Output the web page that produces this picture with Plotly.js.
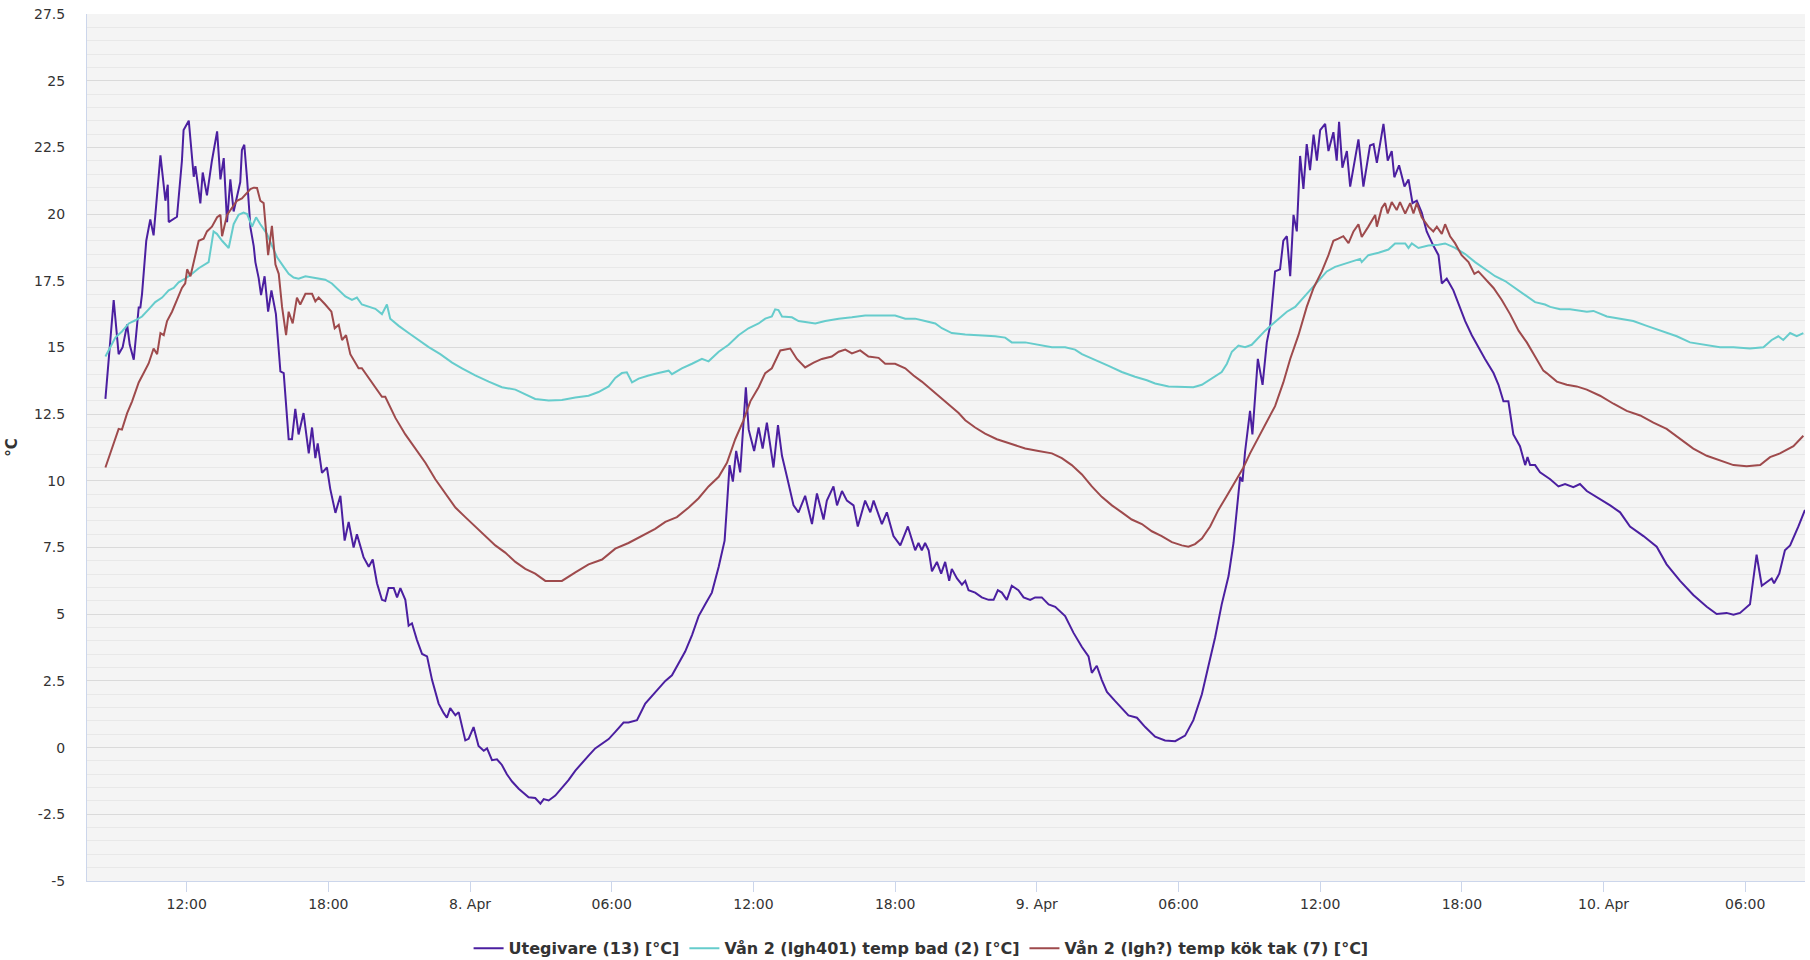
<!DOCTYPE html>
<html>
<head>
<meta charset="utf-8">
<script src="https://cdn.plot.ly/plotly-3.0.1.min.js"></script>
<style>
html,body{margin:0;padding:0;background:#fff;}
#chart{width:1810px;height:960px;}
</style>
</head>
<body>
<div id="chart"></div>
<script>
// Hours after 2023-04-07 00:00 and temperatures (°C)
const uteHours = [8.56,8.91,9.12,9.29,9.48,9.59,9.76,9.97,10.04,10.11,10.29,10.46,10.6,10.67,10.89,11.1,11.2,11.24,11.59,11.8,11.87,12.09,12.3,12.37,12.44,12.58,12.68,12.86,13.07,13.29,13.43,13.57,13.71,13.85,13.99,14.13,14.27,14.34,14.44,14.56,14.7,14.84,14.91,15.05,15.15,15.3,15.45,15.59,15.78,15.97,16.11,16.32,16.46,16.6,16.74,16.95,17.17,17.31,17.45,17.55,17.73,17.94,18.08,18.3,18.51,18.69,18.86,19.07,19.21,19.49,19.71,19.88,20.06,20.27,20.41,20.55,20.77,20.91,21.05,21.26,21.4,21.54,21.75,21.97,22.18,22.39,22.67,22.88,23.02,23.16,23.38,23.52,23.8,23.94,24.15,24.36,24.58,24.72,24.93,25.14,25.35,25.56,25.78,26.06,26.27,26.48,26.76,26.98,27.12,27.33,27.61,27.89,28.17,28.46,28.74,29.02,29.3,29.59,29.87,30.15,30.5,30.71,31.07,31.42,31.84,32.27,32.55,32.83,33.11,33.4,33.68,33.96,34.24,34.53,34.78,34.88,34.99,35.13,35.27,35.44,35.54,35.68,35.8,36.03,36.22,36.39,36.57,36.85,37.04,37.21,37.42,37.7,37.91,38.19,38.48,38.69,38.97,39.11,39.39,39.54,39.75,39.96,40.24,40.42,40.73,40.95,41.09,41.44,41.65,41.93,42.22,42.54,42.85,42.99,43.13,43.27,43.42,43.56,43.77,43.95,44.12,44.29,44.4,44.62,44.83,44.97,45.11,45.39,45.67,45.96,46.17,46.35,46.52,46.73,46.94,47.22,47.44,47.72,47.93,48.21,48.5,48.78,49.2,49.55,49.91,50.19,50.33,50.54,50.75,50.97,51.32,51.88,52.24,52.59,53.01,53.43,53.86,54.28,54.63,54.99,55.27,55.55,55.83,56.12,56.33,56.47,56.61,56.71,56.82,57.03,57.13,57.36,57.56,57.74,57.88,58.09,58.3,58.44,58.59,58.73,58.87,59.01,59.15,59.29,59.43,59.57,59.72,59.86,60.0,60.21,60.35,60.56,60.7,60.8,60.94,61.13,61.27,61.62,61.83,62.11,62.26,62.4,62.68,62.86,63.03,63.14,63.34,63.57,63.74,63.91,64.09,64.3,64.51,64.79,65.01,65.15,65.36,65.64,65.92,66.14,66.42,66.7,66.98,67.34,67.55,67.76,67.97,68.18,68.46,68.68,68.78,68.89,69.1,69.31,69.74,70.09,70.37,70.72,71.0,71.29,71.71,72.28,72.7,73.12,73.69,74.25,74.67,75.24,75.8,76.37,76.79,77.21,77.5,77.78,78.2,78.48,78.7,79.12,79.22,79.44,79.68,79.9,80.25,80.53];
const uteTemp = [13.07,16.78,14.75,15.01,15.86,15.1,14.54,16.5,16.5,17.0,19.0,19.8,19.2,19.9,22.2,20.5,21.1,19.7,19.9,22.0,23.15,23.5,21.4,21.8,21.3,20.4,21.56,20.7,22.0,23.1,21.3,22.1,19.7,21.3,20.1,20.7,21.2,22.4,22.6,21.3,19.5,18.8,18.2,17.6,16.96,17.67,16.34,17.14,16.25,14.1,14.04,11.56,11.56,12.7,11.74,12.54,11.03,12.0,10.85,11.4,10.3,10.5,9.7,8.8,9.44,7.76,8.46,7.5,8.0,7.14,6.78,7.05,6.16,5.54,5.5,5.98,5.98,5.63,5.98,5.54,4.57,4.66,4.04,3.51,3.42,2.54,1.65,1.3,1.12,1.48,1.21,1.33,0.27,0.33,0.77,0.06,-0.12,-0.03,-0.47,-0.44,-0.65,-1.0,-1.27,-1.54,-1.71,-1.86,-1.89,-2.1,-1.93,-1.98,-1.8,-1.5,-1.22,-0.86,-0.56,-0.3,-0.03,0.15,0.32,0.59,0.94,0.94,1.03,1.65,2.09,2.5,2.71,3.16,3.6,4.22,4.93,5.37,5.81,6.78,7.76,9.08,10.59,9.97,11.12,10.32,11.74,13.51,11.92,11.12,12.0,11.21,12.18,10.5,12.09,10.94,10.15,9.08,8.82,9.44,8.38,9.53,8.55,9.26,9.79,9.08,9.62,9.26,9.08,8.29,9.26,8.82,9.26,8.38,8.82,7.93,7.58,8.29,7.4,7.67,7.4,7.67,7.4,6.61,6.96,6.52,6.96,6.25,6.7,6.34,6.11,6.25,5.9,5.81,5.63,5.54,5.54,5.9,5.81,5.54,6.07,5.9,5.63,5.54,5.63,5.63,5.37,5.28,4.93,4.31,3.77,3.42,2.8,3.07,2.54,2.09,1.74,1.21,1.12,0.77,0.41,0.27,0.24,0.45,1.03,2.0,3.07,4.13,5.37,6.43,7.67,8.91,10.15,9.97,11.1,12.62,11.74,14.57,13.6,15.19,15.81,17.85,17.93,19.0,19.17,17.67,19.97,19.35,22.18,20.94,22.62,21.65,22.98,22.0,23.15,23.38,22.36,23.07,22.0,23.46,21.74,22.36,21.03,22.8,21.03,22.57,22.62,21.92,23.38,22.0,22.36,21.38,21.83,21.03,21.3,20.41,20.5,20.06,19.35,18.82,18.46,17.4,17.58,17.14,16.52,15.99,15.46,15.01,14.57,14.04,13.6,12.98,12.98,11.74,11.3,10.59,10.89,10.59,10.59,10.32,10.06,9.79,9.88,9.76,9.88,9.62,9.4,9.08,8.82,8.29,7.93,7.53,6.87,6.25,5.72,5.28,5.01,5.05,4.98,5.05,5.37,7.23,6.07,6.34,6.16,6.52,7.4,7.58,8.29,8.91];

const badHours = [8.56,8.77,8.98,9.26,9.55,9.83,10.11,10.39,10.67,10.96,11.24,11.45,11.66,11.94,12.23,12.51,12.93,13.14,13.28,13.5,13.78,13.99,14.2,14.41,14.56,14.77,14.94,15.12,15.4,15.61,15.83,16.11,16.32,16.53,16.74,17.03,17.31,17.59,17.87,18.15,18.44,18.72,19.0,19.21,19.42,19.71,19.99,20.27,20.48,20.62,20.98,21.4,21.82,22.25,22.74,23.24,23.66,24.22,24.79,25.35,25.92,26.34,26.76,27.33,27.89,28.46,29.02,29.44,29.87,30.15,30.43,30.64,30.86,31.14,31.56,31.98,32.41,32.55,32.97,33.4,33.82,34.1,34.53,34.95,35.37,35.79,36.22,36.5,36.78,36.92,37.06,37.21,37.63,37.91,38.19,38.62,39.04,39.61,40.17,40.73,41.44,42.0,42.43,42.85,43.27,43.7,43.98,44.4,44.97,45.67,46.24,46.66,46.94,47.51,48.07,48.64,49.2,49.62,49.91,50.47,51.04,51.6,52.16,52.66,53.01,53.58,54.14,54.63,54.99,55.41,55.83,56.05,56.26,56.54,56.82,57.1,57.39,57.67,57.95,58.23,58.59,58.94,59.29,59.64,59.93,60.28,60.63,61.06,61.41,61.69,61.76,62.04,62.47,62.89,63.17,63.6,63.74,63.88,64.16,64.58,65.01,65.29,65.71,66.14,66.56,66.98,67.41,67.83,68.25,68.68,69.1,69.52,69.74,70.16,70.58,71.29,71.57,72.14,72.7,73.26,73.83,74.11,74.53,75.1,75.66,76.23,76.93,77.5,78.2,78.77,79.12,79.4,79.61,79.9,80.18,80.46];
const badTemp = [14.66,15.01,15.37,15.6,15.9,16.02,16.16,16.43,16.7,16.87,17.14,17.23,17.44,17.58,17.76,17.97,18.2,19.35,19.26,19.0,18.73,19.62,19.97,20.06,20.0,19.53,19.88,19.62,19.26,18.82,18.38,18.02,17.76,17.62,17.58,17.67,17.62,17.58,17.54,17.4,17.14,16.91,16.78,16.87,16.61,16.52,16.45,16.25,16.61,16.08,15.81,15.54,15.28,15.01,14.75,14.43,14.22,13.95,13.72,13.51,13.42,13.24,13.07,13.01,13.03,13.12,13.19,13.33,13.54,13.86,14.04,14.07,13.69,13.83,13.95,14.04,14.13,14.0,14.22,14.39,14.57,14.48,14.84,15.1,15.46,15.72,15.9,16.08,16.16,16.43,16.4,16.16,16.13,15.99,15.95,15.9,15.99,16.08,16.13,16.2,16.2,16.2,16.08,16.08,15.99,15.9,15.72,15.54,15.49,15.46,15.42,15.37,15.19,15.19,15.1,15.01,15.01,14.92,14.75,14.54,14.31,14.08,13.9,13.77,13.65,13.54,13.51,13.51,13.6,13.83,14.08,14.39,14.84,15.07,15.01,15.1,15.37,15.63,15.85,16.08,16.34,16.52,16.87,17.23,17.49,17.85,18.02,18.15,18.25,18.32,18.2,18.46,18.55,18.67,18.9,18.9,18.73,18.9,18.73,18.82,18.85,18.9,18.73,18.5,18.2,17.93,17.67,17.49,17.23,16.96,16.7,16.61,16.52,16.43,16.43,16.34,16.37,16.16,16.08,15.99,15.81,15.72,15.6,15.42,15.19,15.1,15.01,15.01,14.96,15.01,15.28,15.42,15.28,15.54,15.42,15.54];

const kokHours = [8.56,8.84,9.12,9.26,9.48,9.69,9.97,10.18,10.39,10.6,10.75,10.89,11.03,11.17,11.38,11.59,11.8,11.94,12.02,12.16,12.37,12.51,12.72,12.86,13.07,13.29,13.43,13.5,13.71,13.92,14.13,14.34,14.56,14.7,14.84,14.98,15.12,15.26,15.45,15.61,15.76,15.9,16.04,16.21,16.32,16.49,16.67,16.81,17.03,17.31,17.45,17.59,17.87,18.13,18.27,18.44,18.58,18.75,18.93,19.11,19.28,19.42,19.63,19.85,20.06,20.27,20.41,20.84,21.26,21.68,22.11,22.53,22.95,23.38,23.8,24.22,24.65,25.07,25.49,25.92,26.34,26.76,27.19,27.61,27.89,28.46,29.02,29.59,30.15,30.71,31.28,31.84,32.27,32.76,33.26,33.68,34.1,34.53,34.88,35.23,35.58,35.87,36.22,36.5,36.78,37.14,37.56,37.84,38.19,38.55,38.9,39.32,39.61,39.89,40.17,40.52,40.87,41.3,41.58,42.0,42.43,42.78,43.13,43.41,43.84,44.26,44.69,44.97,45.39,45.81,46.31,46.8,47.51,48.07,48.64,49.06,49.48,49.91,50.33,50.75,51.18,51.6,52.02,52.45,52.87,53.29,53.72,54.14,54.42,54.7,54.99,55.34,55.69,56.05,56.4,56.75,57.03,57.25,57.67,58.09,58.44,58.73,59.08,59.43,59.72,60.07,60.35,60.56,60.77,60.98,61.2,61.41,61.62,61.76,62.04,62.33,62.4,62.61,62.75,62.86,63.03,63.24,63.38,63.6,63.81,63.95,64.09,64.3,64.58,64.79,64.94,65.15,65.29,65.5,65.71,65.99,66.28,66.53,66.7,66.98,67.34,67.69,68.04,68.4,68.75,69.1,69.45,69.59,70.02,70.44,70.86,71.29,71.85,72.42,72.98,73.55,74.11,74.67,75.24,75.8,76.37,76.93,77.5,78.06,78.63,79.05,79.47,80.04,80.46];
const kokTemp = [10.5,11.21,11.95,11.92,12.54,12.98,13.69,14.04,14.4,14.96,14.75,15.54,15.46,15.99,16.34,16.78,17.23,17.4,17.93,17.67,18.46,19.0,19.08,19.35,19.53,19.88,19.97,19.17,19.97,20.23,20.5,20.59,20.8,20.94,20.99,20.98,20.5,20.41,18.46,19.56,18.11,17.76,16.52,15.46,16.34,15.9,16.87,16.61,17.01,17.01,16.73,16.87,16.61,16.34,15.72,15.85,15.28,15.46,14.75,14.48,14.22,14.22,13.95,13.69,13.42,13.15,13.15,12.36,11.74,11.21,10.68,10.06,9.53,9.0,8.64,8.29,7.93,7.58,7.31,6.96,6.7,6.52,6.25,6.25,6.25,6.57,6.87,7.05,7.46,7.67,7.93,8.2,8.46,8.64,9.0,9.35,9.79,10.15,10.68,11.56,12.27,12.98,13.51,14.04,14.22,14.89,14.96,14.57,14.25,14.43,14.57,14.66,14.84,14.92,14.78,14.89,14.66,14.61,14.39,14.39,14.22,13.95,13.72,13.51,13.19,12.89,12.54,12.27,12.0,11.77,11.56,11.42,11.21,11.12,11.03,10.85,10.59,10.24,9.79,9.4,9.08,8.82,8.55,8.38,8.11,7.93,7.7,7.58,7.53,7.63,7.84,8.29,8.91,9.44,9.97,10.5,11.03,11.39,12.09,12.8,13.69,14.57,15.46,16.52,17.23,17.85,18.46,19.0,19.08,19.17,18.91,19.35,19.62,19.14,19.53,19.97,19.53,20.23,20.41,20.02,20.45,20.15,20.45,20.02,20.41,20.02,20.41,19.88,19.53,19.35,19.53,19.26,19.62,19.17,18.91,18.46,18.2,17.76,17.85,17.58,17.23,16.78,16.25,15.63,15.19,14.66,14.13,14.04,13.72,13.6,13.54,13.42,13.19,12.89,12.62,12.45,12.18,11.95,11.56,11.21,10.94,10.77,10.59,10.55,10.59,10.89,11.03,11.3,11.69];

const seriesNames = ['Utegivare (13) [°C]', 'Vån 2 (lgh401) temp bad (2) [°C]', 'Vån 2 (lgh?) temp kök tak (7) [°C]'];
const seriesColors = ['#4b1fa0', '#66cccc', '#9e4a4c'];
const xRangeHours = [7.78, 80.53];
const xTickHours = [12, 18, 24, 30, 36, 42, 48, 54, 60, 66, 72, 78];
const yTicks = [-5, -2.5, 0, 2.5, 5, 7.5, 10, 12.5, 15, 17.5, 20, 22.5, 25, 27.5];

const BASE = Date.UTC(2023, 3, 7, 0, 0, 0);
function pad(n){ return (n < 10 ? '0' : '') + n; }
function h2s(h){
  const d = new Date(BASE + Math.round(h * 3600) * 1000);
  return d.getUTCFullYear() + '-' + pad(d.getUTCMonth()+1) + '-' + pad(d.getUTCDate()) + ' ' +
         pad(d.getUTCHours()) + ':' + pad(d.getUTCMinutes()) + ':' + pad(d.getUTCSeconds());
}
function tickLabel(h){
  const d = new Date(BASE + h * 3600000);
  if (d.getUTCHours() === 0 && d.getUTCMinutes() === 0) return d.getUTCDate() + '. Apr';
  return pad(d.getUTCHours()) + ':' + pad(d.getUTCMinutes());
}

const font = 'DejaVu Sans, Verdana, sans-serif';
const hoursList = [uteHours, badHours, kokHours];
const tempList = [uteTemp, badTemp, kokTemp];

const traces = seriesNames.map((name, i) => ({
  type: 'scatter',
  mode: 'lines',
  name: name,
  x: hoursList[i].map(h2s),
  y: tempList[i],
  line: {color: seriesColors[i], width: 2}
}));

const layout = {
  width: 1810,
  height: 960,
  margin: {l: 87, r: 5, t: 14, b: 79, autoexpand: false},
  paper_bgcolor: '#ffffff',
  plot_bgcolor: '#f4f4f4',
  font: {family: font, color: '#333333'},
  showlegend: true,
  xaxis: {
    type: 'date',
    range: xRangeHours.map(h2s),
    tickmode: 'array',
    tickvals: xTickHours.map(h2s),
    ticktext: xTickHours.map(tickLabel),
    ticks: 'outside',
    ticklen: 10,
    tickwidth: 1,
    tickcolor: '#ccd6eb',
    showline: true,
    linecolor: '#ccd6eb',
    linewidth: 1,
    showgrid: false,
    zeroline: false,
    automargin: false,
    tickfont: {family: font, size: 14, color: '#333333'}
  },
  yaxis: {
    range: [-5, 27.5],
    tickmode: 'array',
    tickvals: yTicks,
    ticktext: yTicks.map(v => String(v)),
    ticks: '',
    ticklabelstandoff: 18,
    showgrid: true,
    gridcolor: '#dadada',
    gridwidth: 1,
    minor: {tickmode: 'linear', tick0: -5, dtick: 0.5, showgrid: true, gridcolor: '#e8e8e8', gridwidth: 1, ticks: ''},
    showline: true,
    linecolor: '#ccd6eb',
    linewidth: 1,
    zeroline: false,
    automargin: false,
    tickfont: {family: font, size: 14, color: '#333333'},
    title: {text: '°C', standoff: 12, font: {family: font, size: 15, color: '#333333', weight: 'bold'}}
  },
  legend: {
    orientation: 'h',
    x: 0.4855,
    xanchor: 'center',
    y: -0.058,
    yanchor: 'top',
    font: {family: font, size: 16, color: '#333333', weight: 'bold'},
    itemwidth: 30,
    traceorder: 'normal'
  }
};

Plotly.newPlot('chart', traces, layout, {displayModeBar: false, staticPlot: true});
</script>
</body>
</html>
